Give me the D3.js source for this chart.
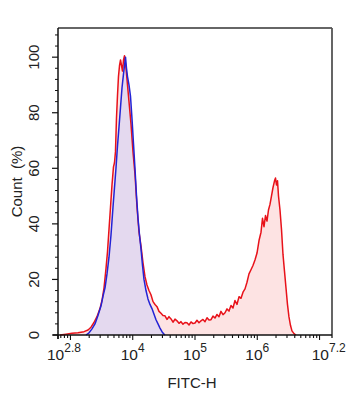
<!DOCTYPE html>
<html>
<head>
<meta charset="utf-8">
<script src="https://cdn.jsdelivr.net/npm/d3@7"></script>
<style>
  html, body { margin: 0; padding: 0; background: #fff; }
  svg { display: block; font-family: "Liberation Sans", Arial, sans-serif; }
</style>
</head>
<body>
<svg id="chart" width="350" height="399"></svg>
<script>
// FITC-H histogram: stained sample (red) over isotype control (blue)
// x values are log10(FITC-H), y values are percent of max count

const redLog = [2.832, 2.928, 3.025, 3.121, 3.218, 3.282, 3.330, 3.378, 3.426, 3.474,
  3.507, 3.539, 3.571, 3.595, 3.619, 3.643, 3.667, 3.691, 3.707, 3.723,
  3.739, 3.755, 3.771, 3.788, 3.804, 3.820, 3.836, 3.852, 3.868, 3.892,
  3.916, 3.940, 3.972, 4.004, 4.036, 4.069, 4.101, 4.133, 4.165, 4.197,
  4.229, 4.261, 4.293, 4.326, 4.358, 4.390, 4.422, 4.454, 4.486, 4.518,
  4.550, 4.582, 4.615, 4.647, 4.679, 4.711, 4.743, 4.775, 4.807, 4.839,
  4.871, 4.904, 4.936, 4.968, 5.000, 5.032, 5.064, 5.096, 5.128, 5.161,
  5.193, 5.225, 5.257, 5.289, 5.321, 5.353, 5.385, 5.417, 5.450, 5.482,
  5.514, 5.546, 5.578, 5.610, 5.642, 5.674, 5.707, 5.739, 5.771, 5.803,
  5.835, 5.867, 5.899, 5.931, 5.963, 5.996, 6.028, 6.060, 6.084, 6.108,
  6.132, 6.156, 6.180, 6.204, 6.228, 6.252, 6.277, 6.293, 6.309, 6.325,
  6.341, 6.365, 6.389, 6.413, 6.437, 6.461, 6.485, 6.509, 6.533, 6.557,
  6.590, 6.622];
const redPct = [0, 0.3, 0.6, 0.8, 1.2, 1.8, 2.8, 4.5, 6.6, 9.5,
  12.5, 17, 24, 30, 38, 46, 54, 60.5, 62, 66,
  78, 86, 93, 97, 99, 97, 95, 99, 100.5, 96,
  90, 84, 76, 66, 58, 46, 37, 32, 26, 21,
  18, 16, 14.5, 12, 11, 10.2, 8.5, 7.8, 7.0, 6.9,
  5.6, 6.6, 5.8, 4.6, 5.7, 5.1, 4.2, 4.8, 3.9, 4.5,
  4.4, 3.6, 4.7, 4.1, 4.3, 5.3, 4.4, 5.1, 5.6, 4.8,
  6.2, 5.4, 5.5, 6.8, 6.1, 7.4, 6.6, 8.5, 7.3, 8.0,
  9.4, 8.6, 10.6, 9.7, 12.4, 11.0, 13.8, 13.2, 15.4, 16.6,
  19, 22, 23.5, 25, 27, 29.5, 34, 37, 42, 39,
  43, 41, 45, 47, 50, 53, 55.5, 56.5, 54, 55.5,
  50, 45, 38, 29, 23, 17, 11, 6.5, 3.5, 1.5,
  0.5, 0];

const blueLog = [3.250, 3.298, 3.346, 3.394, 3.442, 3.491, 3.523, 3.555, 3.587, 3.619,
  3.651, 3.683, 3.707, 3.731, 3.755, 3.780, 3.804, 3.828, 3.852, 3.868,
  3.884, 3.900, 3.916, 3.940, 3.964, 3.988, 4.012, 4.036, 4.061, 4.085,
  4.109, 4.133, 4.157, 4.181, 4.213, 4.245, 4.277, 4.309, 4.342, 4.374,
  4.406, 4.438, 4.470, 4.502, 4.518];
const bluePct = [0, 0.8, 2.2, 4, 7, 10.5, 14, 17, 22, 28,
  36, 46, 53, 60, 68, 75, 82, 89, 94, 97,
  100, 96, 93, 90, 86, 78, 69, 60, 50, 42,
  36, 31, 25, 20, 16, 13, 11, 9.5, 7.5, 5.5,
  4, 2.5, 1.2, 0.3, 0];

// axis setup
const xExtentLog = [2.8, 7.2];
const xLabelExps = ["2.8", "4", "5", "6", "7.2"];
const yMajorTicks = [0, 20, 40, 60, 80, 100];
const yMinorTicks = [4, 8, 12, 16, 24, 28, 32, 36, 44, 48, 52, 56, 64, 68, 72, 76, 84, 88, 92, 96, 104, 108];
const yMax = 110.5;
const xTitle = "FITC-H";
const yTitle = "Count  (%)";

const svg = d3.select("#chart");
const m = { left: 58, right: 332, top: 28, bottom: 335 };

const x = d3.scaleLog()
  .domain(xExtentLog.map(e => Math.pow(10, e)))
  .range([m.left, m.right]);
const y = d3.scaleLinear().domain([0, yMax]).range([m.bottom, m.top]);

const red = redLog.map((e, i) => ({ v: Math.pow(10, e), p: redPct[i] }));
const blue = blueLog.map((e, i) => ({ v: Math.pow(10, e), p: bluePct[i] }));

const area = d3.area().x(d => x(d.v)).y0(y(0)).y1(d => y(d.p));
const line = d3.line().x(d => x(d.v)).y(d => y(d.p));

// fills
svg.append("path").datum(red).attr("d", area).attr("fill", "#fde3e3");
svg.append("path").datum(blue).attr("d", area).attr("fill", "#e4d9ef");

// outlines
svg.append("path").datum(red).attr("d", line)
  .attr("fill", "none").attr("stroke", "#e8121a").attr("stroke-width", 1.5)
  .attr("stroke-linejoin", "round");
svg.append("path").datum(blue).attr("d", line)
  .attr("fill", "none").attr("stroke", "#2323d6").attr("stroke-width", 1.5)
  .attr("stroke-linejoin", "round");

// frame: top and right edges
svg.append("line").attr("x1", m.left).attr("x2", m.right).attr("y1", m.top).attr("y2", m.top)
  .attr("stroke", "#333").attr("stroke-width", 1.3);
svg.append("line").attr("x1", m.right).attr("x2", m.right).attr("y1", m.top).attr("y2", m.bottom + 3)
  .attr("stroke", "#555").attr("stroke-width", 1.8);

// x axis
const gx = svg.append("g");
gx.append("line").attr("x1", m.left - 5).attr("x2", m.right).attr("y1", m.bottom).attr("y2", m.bottom)
  .attr("stroke", "#111").attr("stroke-width", 1.5);
const xt = x.ticks();
gx.selectAll("line.tk").data(xt).join("line").attr("class", "tk")
  .attr("x1", d => x(d)).attr("x2", d => x(d))
  .attr("y1", m.bottom)
  .attr("y2", d => m.bottom + (Math.abs(Math.log10(d) - Math.round(Math.log10(d))) < 1e-9 ? 5 : 3))
  .attr("stroke", "#111").attr("stroke-width", 1.1);
gx.append("line").attr("x1", m.left).attr("x2", m.left).attr("y1", m.bottom).attr("y2", m.bottom + 4)
  .attr("stroke", "#111").attr("stroke-width", 1.2);

const labels = gx.selectAll("text.xl").data(xLabelExps).join("text").attr("class", "xl")
  .attr("x", d => x(Math.pow(10, +d)))
  .attr("y", 360)
  .attr("text-anchor", "middle")
  .attr("fill", "#222")
  .style("font-size", "15.5px");
labels.append("tspan").text("10");
labels.append("tspan").attr("dy", -8).style("font-size", "12px").text(d => d);
// keep the end labels inside the canvas
labels.each(function () {
  const b = this.getBBox();
  let shift = 0;
  if (b.x < 47) shift = 47 - b.x;
  if (b.x + b.width > 346) shift = 346 - (b.x + b.width);
  if (shift) d3.select(this).attr("x", +d3.select(this).attr("x") + shift);
});

svg.append("text").attr("x", 192).attr("y", 388).attr("text-anchor", "middle")
  .attr("fill", "#222").style("font-size", "15px").text(xTitle);

// y axis
const gy = svg.append("g");
gy.append("line").attr("x1", m.left).attr("x2", m.left).attr("y1", m.top).attr("y2", m.bottom + 4)
  .attr("stroke", "#111").attr("stroke-width", 1.5);
gy.selectAll("line.mj").data(yMajorTicks).join("line").attr("class", "mj")
  .attr("x1", m.left - 6).attr("x2", m.left).attr("y1", d => y(d)).attr("y2", d => y(d))
  .attr("stroke", "#111").attr("stroke-width", 1.2);
gy.selectAll("line.mn").data(yMinorTicks).join("line").attr("class", "mn")
  .attr("x1", m.left - 3).attr("x2", m.left).attr("y1", d => y(d)).attr("y2", d => y(d))
  .attr("stroke", "#111").attr("stroke-width", 1);
gy.selectAll("text.yl").data(yMajorTicks).join("text").attr("class", "yl")
  .attr("transform", d => `translate(39,${y(d)}) rotate(-90)`)
  .attr("text-anchor", "middle")
  .attr("fill", "#222")
  .style("font-size", "15px")
  .text(d => d);

svg.append("text")
  .attr("transform", `translate(22,${(m.top + m.bottom) / 2}) rotate(-90)`)
  .attr("text-anchor", "middle").attr("fill", "#222")
  .style("font-size", "15px")
  .style("white-space", "pre")
  .text(yTitle);
</script>
</body>
</html>
